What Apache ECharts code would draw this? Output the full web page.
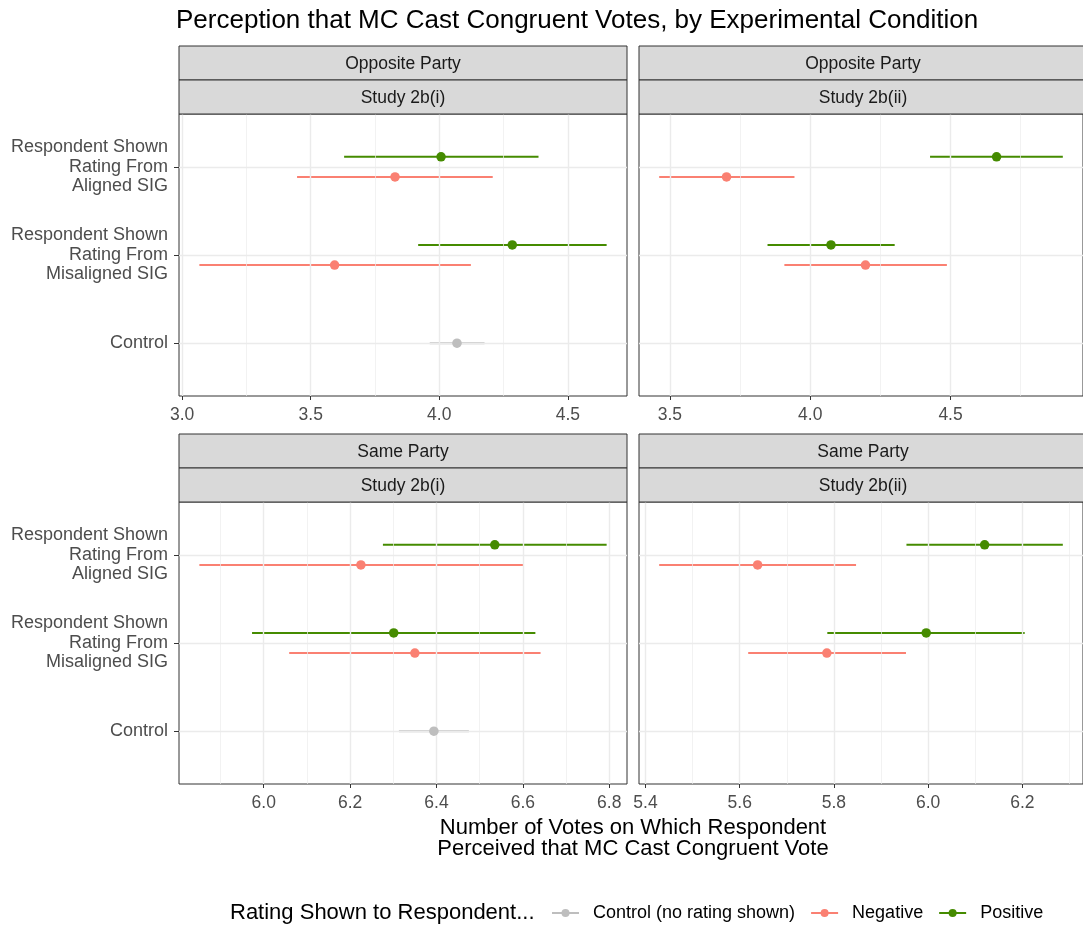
<!DOCTYPE html>
<html>
<head>
<meta charset="utf-8">
<script src="https://cdn.jsdelivr.net/npm/echarts@6/dist/echarts.min.js"></script>
<style>
  html, body { margin: 0; padding: 0; background: #ffffff; }
  #chart { width: 1083px; height: 925px; }
</style>
</head>
<body>
<div id="chart"></div>
<script>
// Experimental conditions, top to bottom
const conditions = [
  'Respondent Shown\nRating From\nAligned SIG',
  'Respondent Shown\nRating From\nMisaligned SIG',
  'Control'
];
const groupNames = ['Control (no rating shown)', 'Negative', 'Positive'];

// Facet labels
const partyLabels = ['Opposite Party', 'Same Party'];
const studyLabels = ['Study 2b(i)', 'Study 2b(ii)'];

// Estimates with intervals: [estimate, lower, upper]; rows = Aligned SIG, Misaligned SIG
const oppositeI_positive = [[4.007, 3.630, 4.386], [4.284, 3.918, 4.651]];
const oppositeI_negative = [[3.828, 3.447, 4.208], [3.593, 3.067, 4.123]];
const oppositeI_control = [[4.069, 3.963, 4.176]];

const oppositeII_positive = [[4.664, 4.427, 4.900], [4.074, 3.848, 4.301]];
const oppositeII_negative = [[3.702, 3.462, 3.944], [4.197, 3.908, 4.487]];
const oppositeII_control = [];

const sameI_positive = [[6.535, 6.276, 6.794], [6.301, 5.973, 6.629]];
const sameI_negative = [[6.225, 5.851, 6.602], [6.350, 6.059, 6.641]];
const sameI_control = [[6.394, 6.313, 6.475]];

const sameII_positive = [[6.120, 5.954, 6.286], [5.996, 5.786, 6.205]];
const sameII_negative = [[5.638, 5.429, 5.847], [5.785, 5.618, 5.953]];
const sameII_control = [];

// Tick labels on each panel's horizontal axis
const ticksOppositeI = [3.0, 3.5, 4.0, 4.5];
const ticksOppositeII = [3.5, 4.0, 4.5];
const ticksSameI = [6.0, 6.2, 6.4, 6.6, 6.8];
const ticksSameII = [5.4, 5.6, 5.8, 6.0, 6.2];

// ---- styling & layout ----
const FONT = '"Liberation Sans", Arial, Helvetica, sans-serif';
const groupColors = {
  'Control (no rating shown)': '#BEBEBE',
  'Negative': '#FA8072',
  'Positive': '#458B00'
};
const dodge = { 'Control (no rating shown)': 0, 'Negative': 0.114, 'Positive': -0.114 };

const colLeft = [179, 639];
const panelW = 448;
const plotTop = [114, 502];
const panelH = 282;
const stripH = 34;

const panels = [
  { r: 0, c: 0, ticks: ticksOppositeI, groups: [oppositeI_control, oppositeI_negative, oppositeI_positive] },
  { r: 0, c: 1, ticks: ticksOppositeII, groups: [oppositeII_control, oppositeII_negative, oppositeII_positive] },
  { r: 1, c: 0, ticks: ticksSameI, groups: [sameI_control, sameI_negative, sameI_positive] },
  { r: 1, c: 1, ticks: ticksSameII, groups: [sameII_control, sameII_negative, sameII_positive] }
];

const grids = [], xAxes = [], yAxes = [], series = [], graphics = [];

// legend-only series (line + dot key)
groupNames.forEach(name => {
  series.push({
    type: 'line', name, data: [], xAxisIndex: 0, yAxisIndex: 0,
    symbol: 'circle', lineStyle: { color: groupColors[name], width: 2 },
    itemStyle: { color: groupColors[name] }
  });
});

panels.forEach((p, i) => {
  // x-range: data extent expanded by 5% on each side
  let lo = Infinity, hi = -Infinity;
  p.groups.forEach(g => g.forEach(row => { lo = Math.min(lo, row[1]); hi = Math.max(hi, row[2]); }));
  const pad = (hi - lo) * 0.05;
  const xmin = lo - pad, xmax = hi + pad;

  grids.push({
    left: colLeft[p.c], top: plotTop[p.r], width: panelW, height: panelH,
    show: true, borderColor: '#333333', borderWidth: 1, backgroundColor: '#ffffff',
    containLabel: false
  });

  xAxes.push({
    type: 'value', gridIndex: i, min: xmin, max: xmax,
    axisLine: { show: false },
    axisTick: { show: true, length: 4, lineStyle: { color: '#333333', width: 1 }, customValues: p.ticks },
    axisLabel: {
      show: true, customValues: p.ticks, margin: 10,
      formatter: v => Number(v).toFixed(1),
      color: '#4D4D4D', fontSize: 17.5, fontFamily: FONT
    },
    splitLine: { show: false }, minorSplitLine: { show: false }
  });

  yAxes.push({
    type: 'value', gridIndex: i, min: 0.4, max: 3.6, inverse: true,
    axisLine: { show: false },
    axisTick: { show: p.c === 0, length: 5, lineStyle: { color: '#333333', width: 1 }, customValues: [1, 2, 3] },
    axisLabel: {
      show: p.c === 0, customValues: [1, 2, 3], margin: 11,
      formatter: v => conditions[Math.round(v) - 1],
      color: '#4D4D4D', fontSize: 18, lineHeight: 19.5, align: 'right', fontFamily: FONT
    },
    splitLine: { show: false }
  });

  // background grid lines: major at ticks, minor halfway between
  const step = p.ticks[1] - p.ticks[0];
  const minor = [];
  for (let k = -1; k < p.ticks.length; k++) {
    const v = p.ticks[0] + step * (k + 0.5);
    if (v > xmin && v < xmax) minor.push(v);
  }
  const gridLines = [];
  minor.forEach(v => gridLines.push({ xAxis: v, lineStyle: { color: '#EDEDED', width: 0.7, type: 'solid' } }));
  p.ticks.forEach(v => gridLines.push({ xAxis: v, lineStyle: { color: '#EBEBEB', width: 1.4, type: 'solid' } }));
  [1, 2, 3].forEach(v => gridLines.push({ yAxis: v, lineStyle: { color: '#EBEBEB', width: 1.4, type: 'solid' } }));
  series.push({
    type: 'line', name: 'gridlines' + i, data: [], xAxisIndex: i, yAxisIndex: i, z: 1,
    markLine: { silent: true, symbol: ['none', 'none'], label: { show: false }, animation: false, data: gridLines }
  });

  // intervals and points per group
  p.groups.forEach((rows, gi) => {
    const name = groupNames[gi];
    const color = groupColors[name];
    const isControl = gi === 0;
    const data = rows.map((row, k) => {
      const cond = isControl ? 3 : k + 1;
      return [row[0], row[1], row[2], cond + dodge[name]];
    });
    series.push({
      type: 'custom', name, xAxisIndex: i, yAxisIndex: i, z: 2,
      data, encode: { x: [1, 2], y: 3 },
      renderItem: (params, api) => {
        const y = api.value(3);
        const a = api.coord([api.value(1), y]);
        const b = api.coord([api.value(2), y]);
        return { type: 'line', shape: { x1: a[0], y1: a[1], x2: b[0], y2: b[1] },
                 style: { stroke: color, lineWidth: 2 } };
      }
    });
    series.push({
      type: 'scatter', name, xAxisIndex: i, yAxisIndex: i, z: 6,
      symbol: 'circle', symbolSize: 9.5,
      itemStyle: { color, opacity: 1 },
      data: data.map(d => [d[0], d[3]])
    });
  });

  // facet strips
  const labels = [partyLabels[p.r], studyLabels[p.c]];
  labels.forEach((txt, s) => {
    const y0 = plotTop[p.r] - stripH * (2 - s);
    graphics.push({
      type: 'rect', silent: true, z: 10,
      shape: { x: colLeft[p.c], y: y0, width: panelW, height: stripH },
      style: { fill: '#D9D9D9', stroke: '#333333', lineWidth: 1 }
    });
    graphics.push({
      type: 'text', silent: true, z: 11,
      x: colLeft[p.c] + panelW / 2, y: y0 + stripH / 2 + 1,
      style: { text: txt, fill: '#1A1A1A', fontSize: 17.5, fontFamily: FONT,
               textAlign: 'center', textVerticalAlign: 'middle' }
    });
  });
});

// axis title and legend title
graphics.push({
  type: 'text', silent: true,
  x: (colLeft[0] + colLeft[1] + panelW) / 2, y: 838,
  style: { text: 'Number of Votes on Which Respondent\nPerceived that MC Cast Congruent Vote',
           fill: '#000000', fontSize: 22, lineHeight: 21, fontFamily: FONT,
           textAlign: 'center', textVerticalAlign: 'middle' }
});
graphics.push({
  type: 'text', silent: true, x: 230, y: 913,
  style: { text: 'Rating Shown to Respondent...', fill: '#000000', fontSize: 22, fontFamily: FONT,
           textAlign: 'left', textVerticalAlign: 'middle' }
});

const chart = echarts.init(document.getElementById('chart'), null, { renderer: 'canvas' });
chart.setOption({
  animation: false,
  backgroundColor: '#ffffff',
  title: {
    text: 'Perception that MC Cast Congruent Votes, by Experimental Condition',
    left: 176, top: 8, padding: 0,
    textStyle: { fontSize: 26, fontWeight: 'normal', color: '#000000', fontFamily: FONT }
  },
  legend: {
    data: groupNames, left: 551, top: 904, padding: 0,
    itemWidth: 27, itemHeight: 10, itemGap: 15,
    selectedMode: false,
    textStyle: { fontSize: 18, color: '#000000', fontFamily: FONT, padding: [0, 0, 0, 9] }
  },
  grid: grids,
  xAxis: xAxes,
  yAxis: yAxes,
  series,
  graphic: { elements: graphics }
});
</script>
</body>
</html>
